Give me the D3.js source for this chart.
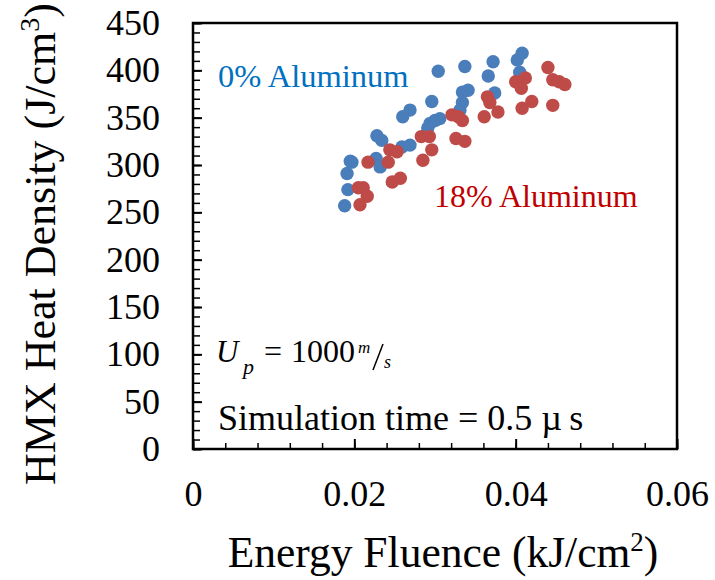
<!DOCTYPE html>
<html>
<head>
<meta charset="utf-8">
<script src="https://cdn.jsdelivr.net/npm/d3@7"></script>
<style>
body{margin:0;background:#fff}
text{font-family:"Liberation Serif","Times New Roman",serif;fill:#000}
</style>
</head>
<body>
<div id="chart"></div>
<script>
// energy fluence (kJ/cm2) vs HMX heat density (J/cm3)
const xTicks=[0,0.02,0.04,0.06];
const yTicks=[0,50,100,150,200,250,300,350,400,450];

const blueX=[0.0188,0.0192,0.0191,0.0195,0.0197,0.0227,0.0232,0.0228,0.0234,0.0259,0.0269,0.0260,0.0269,0.0296,0.0291,0.0294,0.0300,0.0306,0.0304,0.0331,0.0334,0.0334,0.0341,0.0337,0.0366,0.0372,0.0374,0.0402,0.0408,0.0405];
const blueY=[257,274,291,304,303,307,298,331,326,319,321,351,358,367,339,344,347,349,399,358,366,377,379,404,394,409,376,411,418,398];

const redX=[0.0205,0.0211,0.0216,0.0207,0.0217,0.0244,0.0253,0.0242,0.0247,0.0257,0.0283,0.0293,0.0296,0.0285,0.0321,0.0329,0.0334,0.0326,0.0337,0.0365,0.0368,0.0378,0.0361,0.0400,0.0412,0.0407,0.0408,0.0420,0.0440,0.0446,0.0454,0.0461,0.0446];
const redY=[276,276,267,258,303,316,314,303,282,286,330,330,316,305,353,351,347,328,325,372,366,356,351,388,392,381,360,367,403,390,388,385,363];

const width=715, height=580;
const svg=d3.select('#chart').append('svg')
    .attr('width',width)
    .attr('height',height);

const x=d3.scaleLinear().domain([0,0.06]).range([193,677]);
const y=d3.scaleLinear().domain([0,450]).range([449,23]);

// minor ticks
const xMinor=d3.range(0,0.0601,0.004);
const yMinor=d3.range(0,451,10);

svg.append('g')
    .attr('transform','translate(0,449)')
    .call(d3.axisBottom(x).tickValues(xMinor).tickSize(-6).tickFormat(''))
    .call(g=>g.select('.domain').remove())
    .selectAll('line').attr('stroke','#000').attr('stroke-width',1.5);

svg.append('g')
    .attr('transform','translate(0,449)')
    .call(d3.axisBottom(x).tickValues(xTicks).tickSize(-10).tickPadding(31).tickFormat(d=>d===0?'0':d3.format('.2f')(d)))
    .call(g=>g.select('.domain').remove())
    .call(g=>g.selectAll('line').attr('stroke','#000').attr('stroke-width',2))
    .call(g=>g.selectAll('text').style('font-size','36px').attr('fill','#000'));

svg.append('g')
    .attr('transform','translate(193,0)')
    .call(d3.axisLeft(y).tickValues(yMinor).tickSize(-7).tickFormat(''))
    .call(g=>g.select('.domain').remove())
    .selectAll('line').attr('stroke','#000').attr('stroke-width',1.5);

svg.append('g')
    .attr('transform','translate(193,0)')
    .call(d3.axisLeft(y).tickValues(yTicks).tickSize(-9).tickPadding(33))
    .call(g=>g.select('.domain').remove())
    .call(g=>g.selectAll('line').attr('stroke','#000').attr('stroke-width',2))
    .call(g=>g.selectAll('text').style('font-size','36px').attr('fill','#000'));

// frame
svg.append('rect')
    .attr('x',x(0)).attr('y',y(450))
    .attr('width',x(0.06)-x(0)).attr('height',y(0)-y(450))
    .attr('fill','none').attr('stroke','#000').attr('stroke-width',2.5);

// points, red drawn on top
const blue=blueX.map((d,i)=>({x:d,y:blueY[i]}));
const red=redX.map((d,i)=>({x:d,y:redY[i]}));

svg.selectAll('circle.blue').data(blue).enter()
    .append('circle').attr('class','blue')
    .attr('cx',d=>x(d.x)).attr('cy',d=>y(d.y))
    .attr('r',6.7).attr('fill','#4A7EBB');

svg.selectAll('circle.red').data(red).enter()
    .append('circle').attr('class','red')
    .attr('cx',d=>x(d.x)).attr('cy',d=>y(d.y))
    .attr('r',6.7).attr('fill','#BE4B48');

// series labels
svg.append('text').attr('x',218).attr('y',87)
    .style('font-size','32.5px').style('fill','#0070C0')
    .text('0% Aluminum');
svg.append('text').attr('x',434).attr('y',207)
    .style('font-size','32px').style('fill','#C00000')
    .text('18% Aluminum');

// annotations
svg.append('text').attr('x',216).attr('y',362)
    .style('font-size','31px').style('font-style','italic').text('U');
svg.append('text').attr('x',243).attr('y',374)
    .style('font-size','22px').style('font-style','italic').text('p');
svg.append('text').attr('x',264).attr('y',362)
    .style('font-size','32px').text('=');
svg.append('text').attr('x',291).attr('y',362)
    .style('font-size','32px').text('1000');
svg.append('text').attr('x',358).attr('y',353)
    .style('font-size','17px').style('font-style','italic').text('m');
svg.append('line').attr('x1',383).attr('y1',344).attr('x2',373).attr('y2',370)
    .attr('stroke','#000').attr('stroke-width',1.5);
svg.append('text').attr('x',384).attr('y',368)
    .style('font-size','18px').style('font-style','italic').text('s');

svg.append('text').attr('x',218).attr('y',430)
    .style('font-size','36px').text('Simulation time = 0.5 \u00b5\u2009s');

// axis titles
const xt=svg.append('text').attr('x',443).attr('y',567)
    .attr('text-anchor','middle').style('font-size','43.5px');
xt.append('tspan').text('Energy Fluence (kJ/cm');
xt.append('tspan').attr('dy',-16).style('font-size','27px').text('2');
xt.append('tspan').attr('dy',16).text(')');

const yt=svg.append('text')
    .attr('transform','translate(55,244) rotate(-90)')
    .attr('text-anchor','middle').style('font-size','44px');
yt.append('tspan').text('HMX Heat Density (J/cm');
yt.append('tspan').attr('dy',-16).style('font-size','28px').text('3');
yt.append('tspan').attr('dy',16).text(')');
</script>
</body>
</html>
